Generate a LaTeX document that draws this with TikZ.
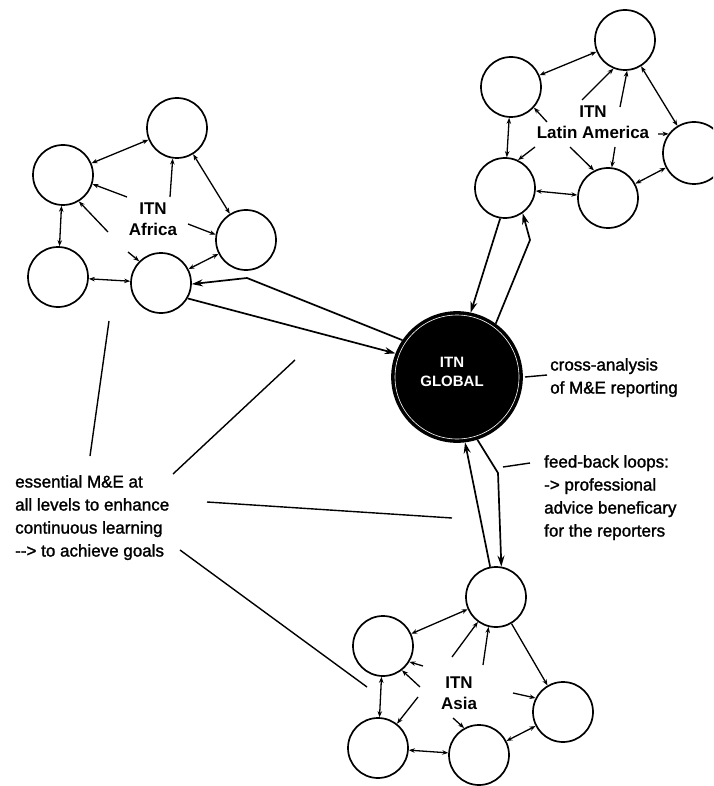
\documentclass[tikz,border=0pt]{standalone}
\usepackage{fontspec}
\setmainfont{Liberation Sans}
\newfontfamily\notefont[FakeBold=1.5]{Liberation Sans}
\usetikzlibrary{arrows.meta}

\begin{document}
\begin{tikzpicture}[x=1pt,y=-1pt,
  hub/.style={circle,draw,line width=1.7pt,minimum size=60pt,inner sep=0pt},
  core/.style={circle,draw,fill=black,line width=1.7pt,minimum size=130pt,inner sep=0pt},
  link/.style={line width=1.3pt,arrows={Stealth[length=6pt,width=4.5pt]-Stealth[length=6pt,width=4.5pt]}},
  feed/.style={line width=1.3pt,arrows={-Stealth[length=6pt,width=4.5pt]}},
  trunk/.style={line width=1.7pt,line join=round,arrows={-Stealth[length=11pt,width=7pt]}},
  pointer/.style={line width=1.4pt},
  caption/.style={font=\notefont\fontsize{17}{23}\selectfont,align=left,inner sep=0pt,anchor=north west},
  tag/.style={font=\bfseries\fontsize{17}{21}\selectfont,align=center,inner sep=0pt,anchor=north},
]
\useasboundingbox (0,0) rectangle (713,786);
\clip (0,0) rectangle (713,786);

% ---------- central hub ----------
\node[core] (G) at (457,377) {};
\draw[white,line width=0.6pt] (G.center) circle[radius=62];
\node[text=white,font=\bfseries\fontsize{15}{19}\selectfont,align=center,inner sep=0pt] (Gt) at (452,372) {ITN\\GLOBAL};

% ---------- Africa ----------
\node[hub] (A1) at (177,128) {};
\node[hub] (A2) at (63,175) {};
\node[hub] (A3) at (246,240) {};
\node[hub] (A4) at (58,277) {};
\node[hub] (A5) at (161,283) {};
\node[tag] (tA) at (153,203) {ITN\\Africa};

\draw[link] (A2) -- (A1);
\draw[link] (A1) -- (A3);
\draw[link] (A2) -- (A4);
\draw[link] (A4) -- (A5);
\draw[link] (A3) -- (A5);

\coordinate (fa1) at (127,197);
\coordinate (fa2) at (108,232);
\coordinate (fa3) at (170,197);
\coordinate (fa4) at (188,224);
\coordinate (fa5) at (128,252);
\draw[feed] (fa1) -- (A2.-17);
\draw[feed] (fa2) -- (A2.-59);
\draw[feed] (fa3) -- (A1.-98);
\draw[feed] (fa4) -- (A3.170);
\draw[feed] (fa5) -- (A5.135);

\coordinate (ka) at (247,278);
\draw[trunk] (G.146) -- (ka) -- (A5.-2);
\draw[trunk] (A5.-30) -- (G.159);

% ---------- Latin America ----------
\node[hub] (L1) at (625,40) {};
\node[hub] (L2) at (511,87) {};
\node[hub,minimum size=62pt] (L3) at (694,153) {};
\node[hub] (L4) at (505,188) {};
\node[hub] (L5) at (608,198) {};
\node[tag] (tL) at (593,106) {ITN\\Latin America};

\draw[link] (L2) -- (L1);
\draw[link] (L1) -- (L3);
\draw[link] (L2) -- (L4);
\draw[link] (L4) -- (L5);
\draw[link] (L5) -- (L3);

\coordinate (fl1) at (547,122);
\coordinate (fl2) at (582,100);
\coordinate (fl3) at (620,107);
\coordinate (fl4) at (535,147);
\coordinate (fl5) at (570,147);
\coordinate (fl6) at (615,147);
\coordinate (fl7) at (658,134);
\draw[feed] (fl1) -- (L2.-42);
\draw[feed] (fl2) -- (L1.-112);
\draw[feed] (fl3) -- (L1.-86);
\draw[feed] (fl4) -- (L4.65);
\draw[feed] (fl5) -- (L5.117);
\draw[feed] (fl6) -- (L5.83);
\draw[feed] (fl7) -- (L3.143);

\coordinate (kl) at (530,240);
\draw[trunk] (L4.-99) -- (G.78);
\draw[trunk] (G.54) -- (kl) -- (L4.-55);

% ---------- Asia ----------
\node[hub] (S1) at (496,597) {};
\node[hub] (S2) at (383,646) {};
\node[hub] (S3) at (563,712) {};
\node[hub] (S4) at (378,748) {};
\node[hub] (S5) at (479,755) {};
\node[tag] (tS) at (459,677) {ITN\\Asia};

\draw[link] (S2) -- (S1);
\draw[feed] (S1) -- (S3);
\draw[link] (S2) -- (S4);
\draw[link] (S4) -- (S5);
\draw[link] (S5) -- (S3);

\coordinate (fs1) at (452,657);
\coordinate (fs2) at (483,665);
\coordinate (fs3) at (423,666);
\coordinate (fs4) at (420,687);
\coordinate (fs5) at (418,697);
\coordinate (fs6) at (453,718);
\coordinate (fs7) at (513,693);
\draw[feed] (fs1) -- (S1.-126);
\draw[feed] (fs2) -- (S1.-104);
\draw[feed] (fs3) -- (S2.-31);
\draw[feed] (fs4) -- (S2.-52);
\draw[feed] (fs5) -- (S4.52);
\draw[feed] (fs6) -- (S5.119);
\draw[feed] (fs7) -- (S3.153);

\coordinate (ks) at (498,473);
\draw[trunk] (S1.101) -- (G.-83);
\draw[trunk] (G.-72) -- (ks) -- (S1.80);

% ---------- annotations ----------
\node[caption] (cross) at (550,358) {cross-analysis\\of M\&E reporting};
\coordinate (cx1) at (525,377);
\coordinate (cx2) at (547,375);
\draw[pointer] (cx1) -- (cx2);

\node[caption] (fb) at (544,455) {feed-back loops:\\-> professional\\advice beneficary\\for the reporters};
\coordinate (fx1) at (503,467);
\coordinate (fx2) at (530,463);
\draw[pointer] (fx1) -- (fx2);

\node[caption] (ess) at (15,475) {essential M\&E at\\all levels to enhance\\continuous learning\\-{}-> to achieve goals};
\coordinate (p1a) at (109,321);
\coordinate (p1b) at (90,456);
\coordinate (p2a) at (295,360);
\coordinate (p2b) at (173,474);
\coordinate (p3a) at (207,502);
\coordinate (p3b) at (452,518);
\coordinate (p4a) at (180,550);
\coordinate (p4b) at (367,687);
\draw[pointer] (p1a) -- (p1b);
\draw[pointer] (p2a) -- (p2b);
\draw[pointer] (p3a) -- (p3b);
\draw[pointer] (p4a) -- (p4b);
\end{tikzpicture}
\end{document}
